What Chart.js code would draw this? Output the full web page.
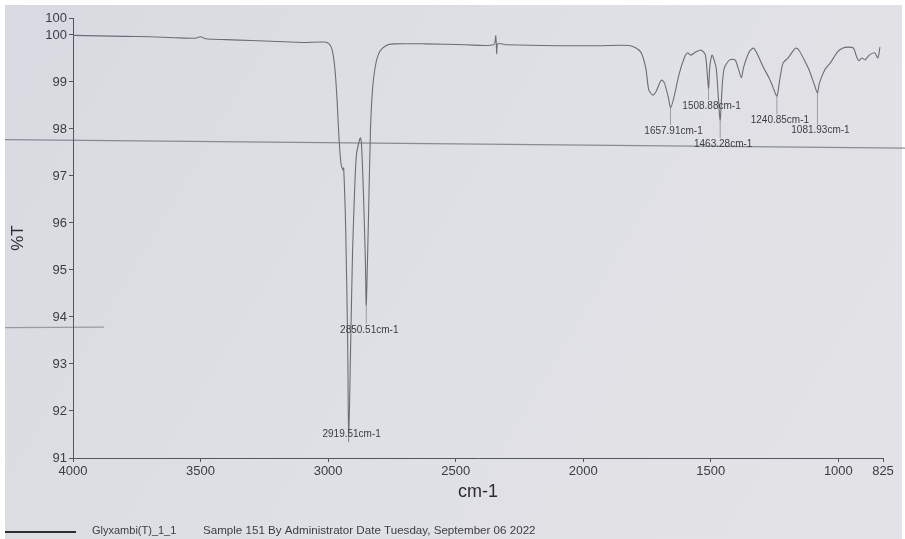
<!DOCTYPE html>
<html>
<head>
<meta charset="utf-8">
<title>Glyxambi(T)_1_1 IR spectrum</title>
<script src="https://cdn.jsdelivr.net/npm/chart.js@4.4.1/dist/chart.umd.min.js"></script>
<style>
  html, body { margin: 0; padding: 0; background: #ffffff; }
  #wrap { width: 905px; height: 539px; position: relative; }
</style>
</head>
<body>
<div id="wrap"><canvas id="ir" width="905" height="539"></canvas></div>
<script>
// Wavenumber (cm-1) and transmittance (%T) of the recorded trace
const wavenumbers = [
  4000, 3900, 3800, 3700, 3600, 3520, 3500, 3480, 3400, 3300, 3200, 3100,
  3015, 2996, 2984, 2973, 2965, 2958, 2950, 2942, 2939, 2931, 2923, 2919.51,
  2912, 2904, 2896, 2889, 2877, 2873, 2869, 2862, 2854, 2850.51,
  2842, 2834, 2826, 2814, 2798, 2774, 2742, 2621, 2460, 2351, 2343, 2339, 2335,
  2299, 2097, 1936, 1815, 1775, 1755, 1743, 1727, 1715, 1694, 1682, 1666, 1657.91,
  1645, 1625, 1604, 1591, 1579, 1558, 1538, 1521, 1508.88, 1504, 1495, 1479, 1471,
  1463.28, 1455, 1447, 1426, 1405, 1393, 1380, 1372, 1351, 1334, 1322, 1293, 1272,
  1260, 1240.85, 1230, 1217, 1197, 1168, 1155, 1134, 1115, 1094, 1081.93, 1074,
  1053, 1032, 1003, 982, 962, 941, 928, 920, 908, 895, 879, 858, 845, 837
];
const transmittance = [
  99.99, 99.98, 99.97, 99.96, 99.94, 99.93, 99.96, 99.92, 99.90, 99.88, 99.86, 99.84,
  99.85, 99.81, 99.68, 99.26, 98.62, 97.87, 97.28, 97.13, 97.17, 95.85, 93.30, 91.34,
  93.30, 95.43, 96.70, 97.45, 97.77, 97.81, 97.66, 96.70, 95.21, 94.26,
  96.06, 97.98, 98.83, 99.36, 99.64, 99.77, 99.81, 99.81, 99.79, 99.79, 99.98, 99.60, 99.81,
  99.79, 99.77, 99.77, 99.77, 99.64, 99.30, 98.83, 98.72, 98.79, 99.04, 98.98, 98.66, 98.45,
  98.66, 99.15, 99.51, 99.62, 99.57, 99.64, 99.68, 99.57, 98.87, 99.32, 99.57, 99.30, 98.72,
  98.19, 98.94, 99.30, 99.47, 99.47, 99.30, 99.09, 99.30, 99.62, 99.72, 99.64, 99.30, 99.09,
  98.94, 98.70, 99.04, 99.40, 99.51, 99.72, 99.68, 99.47, 99.26, 98.94, 98.77, 98.98,
  99.26, 99.40, 99.64, 99.72, 99.74, 99.72, 99.53, 99.45, 99.51, 99.47, 99.57, 99.62, 99.51, 99.74
];

// Picked peaks
const peakWavenumbers = [2919.51, 2850.51, 1657.91, 1508.88, 1463.28, 1240.85, 1081.93];
const peakTransmittance = [91.34, 94.26, 98.45, 98.87, 98.19, 98.70, 98.77];

// Axis ticks
const xTicks = [4000, 3500, 3000, 2500, 2000, 1500, 1000, 825];
const yTicks = [91, 92, 93, 94, 95, 96, 97, 98, 99, 100];
const xRange = [825, 4000];
const yRange = [91, 100.36];

const sampleName = 'Glyxambi(T)_1_1';
const sampleInfo = 'Sample 151 By Administrator Date Tuesday, September 06 2022';

const points = wavenumbers.map((w, i) => ({ x: w, y: transmittance[i] }));
const peaks = peakWavenumbers.map((w, i) => ({ x: w, y: peakTransmittance[i] }));

const inkColor = '#3c3c44';
const traceColor = '#6c6c76';

// Paper background with a slight uneven tone and a couple of print streaks
const paperPlugin = {
  id: 'paper',
  beforeDraw(chart) {
    const { ctx, width, height } = chart;
    ctx.save();
    ctx.fillStyle = '#ffffff';
    ctx.fillRect(0, 0, width, height);
    const g = ctx.createLinearGradient(0, 0, width, height);
    g.addColorStop(0, '#d9dae1');
    g.addColorStop(0.5, '#dfe0e5');
    g.addColorStop(1, '#e3e3e7');
    ctx.fillStyle = g;
    ctx.fillRect(5, 5, width - 8, height - 5);
    ctx.strokeStyle = 'rgba(110,110,120,0.75)';
    ctx.lineWidth = 1.2;
    ctx.beginPath();
    ctx.moveTo(5, height * 0.259);
    ctx.lineTo(width, height * 0.275);
    ctx.stroke();
    ctx.strokeStyle = 'rgba(110,110,120,0.6)';
    ctx.beginPath();
    ctx.moveTo(5, height * 0.608);
    ctx.lineTo(width * 0.115, height * 0.607);
    ctx.stroke();
    ctx.restore();
  }
};

// Peak annotations: thin drop line and wavenumber text under each picked minimum
const labelDrop = [-8, 25, 23, 18, 24, 24, 38];
const peakLabelPlugin = {
  id: 'peakLabels',
  afterDatasetsDraw(chart) {
    const { ctx, scales: { x, y } } = chart;
    ctx.save();
    ctx.font = '10px "Liberation Sans", Arial, sans-serif';
    ctx.fillStyle = inkColor;
    ctx.textAlign = 'center';
    ctx.textBaseline = 'middle';
    ctx.strokeStyle = 'rgba(100,100,110,0.7)';
    ctx.lineWidth = 0.8;
    peaks.forEach((p, i) => {
      const px = x.getPixelForValue(p.x);
      const py = y.getPixelForValue(p.y);
      const ty = py + labelDrop[i];
      if (labelDrop[i] > 0) {
        ctx.beginPath();
        ctx.moveTo(px, py);
        ctx.lineTo(px, ty - 6);
        ctx.stroke();
      }
      ctx.fillText(p.x.toFixed(2) + 'cm-1', px + 3, ty);
    });
    ctx.restore();
  }
};

// Sample line key and run information at the foot of the page
const footerPlugin = {
  id: 'footer',
  afterDraw(chart) {
    const { ctx, height } = chart;
    const yy = height - 7;
    ctx.save();
    ctx.strokeStyle = '#2c2c34';
    ctx.lineWidth = 2;
    ctx.beginPath();
    ctx.moveTo(5, yy);
    ctx.lineTo(76, yy);
    ctx.stroke();
    ctx.fillStyle = inkColor;
    ctx.textBaseline = 'middle';
    ctx.font = '11px "Liberation Sans", Arial, sans-serif';
    ctx.fillText(sampleName, 92, yy - 1);
    ctx.font = '11.6px "Liberation Sans", Arial, sans-serif';
    ctx.fillText(sampleInfo, 203, yy - 1);
    ctx.restore();
  }
};

new Chart(document.getElementById('ir'), {
  type: 'line',
  data: {
    datasets: [{
      label: sampleName,
      data: points,
      borderColor: traceColor,
      borderWidth: 1.1,
      pointRadius: 0,
      tension: 0.25,
      fill: false
    }]
  },
  options: {
    responsive: false,
    animation: false,
    layout: { padding: { top: 18, right: 22, bottom: 36, left: 0 } },
    plugins: {
      legend: { display: false },
      tooltip: { enabled: false }
    },
    scales: {
      x: {
        type: 'linear',
        reverse: true,
        min: xRange[0],
        max: xRange[1],
        afterBuildTicks(scale) { scale.ticks = xTicks.map(v => ({ value: v })); },
        afterFit(scale) { scale.height = 45; },
        ticks: {
          autoSkip: false,
          maxRotation: 0,
          padding: 2,
          color: inkColor,
          font: { family: '"Liberation Sans", Arial, sans-serif', size: 13 },
          callback: v => String(v)
        },
        grid: { drawOnChartArea: false, drawTicks: true, tickLength: 4, color: '#555560' },
        border: { display: true, color: '#555560', width: 1 },
        title: {
          display: true,
          text: 'cm-1',
          color: '#2c2c34',
          padding: { top: 4, bottom: 0 },
          font: { family: '"Liberation Sans", Arial, sans-serif', size: 18 }
        }
      },
      y: {
        type: 'linear',
        min: yRange[0],
        max: yRange[1],
        afterBuildTicks(scale) {
          scale.ticks = yTicks.concat([yRange[1]]).map(v => ({ value: v }));
        },
        afterFit(scale) { scale.width = 73; },
        ticks: {
          autoSkip: false,
          padding: 2,
          color: inkColor,
          font: { family: '"Liberation Sans", Arial, sans-serif', size: 13 },
          callback: v => String(Math.round(v))
        },
        grid: { drawOnChartArea: false, drawTicks: true, tickLength: 4, color: '#555560' },
        border: { display: true, color: '#555560', width: 1 },
        title: {
          display: true,
          text: '%T',
          color: '#2c2c34',
          padding: { top: 8, bottom: 4 },
          font: { family: '"Liberation Sans", Arial, sans-serif', size: 17 }
        }
      }
    }
  },
  plugins: [paperPlugin, peakLabelPlugin, footerPlugin]
});
</script>
</body>
</html>
